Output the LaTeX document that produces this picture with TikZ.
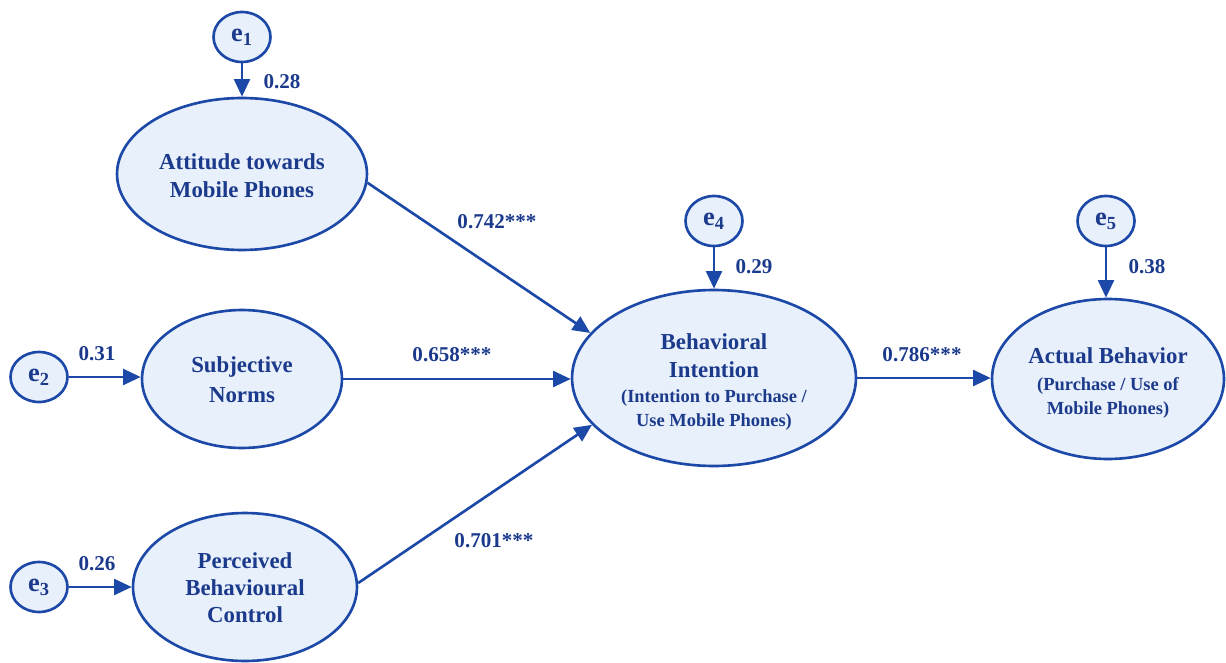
\documentclass[tikz,border=0pt]{standalone}
\usepackage{fontspec}
\setmainfont{Liberation Serif}
\usetikzlibrary{arrows.meta,shapes.geometric}
\definecolor{dblue}{HTML}{1C48A8}
\definecolor{tblue}{HTML}{1B3A8C}
\definecolor{lfill}{HTML}{E8F0FB}
\tikzset{
  latent/.style={ellipse, draw=dblue, line width=1.5pt, fill=lfill, inner sep=0pt, align=center, text=tblue, font=\bfseries\fontsize{13}{16}\selectfont},
  errc/.style={ellipse, draw=dblue, line width=1.5pt, fill=lfill, inner sep=0pt, minimum width=1.14cm, minimum height=1.0cm, text=tblue, font=\bfseries\fontsize{15}{16}\selectfont},
  path/.style={draw=dblue, line width=1.5pt, -{Triangle[length=10pt,width=9pt]}},
  coef/.style={text=tblue, font=\bfseries\fontsize{12}{14}\selectfont, inner sep=0pt},
}
\newcommand{\smalltxt}[1]{{\fontsize{10.5}{13}\selectfont #1}}
\begin{document}
\begin{tikzpicture}[x=0.02cm,y=-0.02cm]
\useasboundingbox (0,0) rectangle (1226,662);
% latent variables
\node[latent, minimum width=5.0cm, minimum height=3.04cm] (att) at (242,174) {\rule{0pt}{11pt}Attitude towards\\Mobile Phones};
\node[latent, minimum width=4.0cm, minimum height=2.76cm] (sn) at (242,379) {\rule{0pt}{10pt}Subjective\\[0.8pt]Norms};
\node[latent, minimum width=4.48cm, minimum height=2.96cm] (pbc) at (245,587) {\rule{0pt}{10pt}Perceived\\[-0.7pt]Behavioural\\[-0.7pt]Control};
\node[latent, minimum width=5.68cm, minimum height=3.52cm] (bi) at (714,378) {\rule{0pt}{13.5pt}Behavioral\\Intention\\[-1.8pt]\smalltxt{(Intention to Purchase /}\\[-2.4pt]\smalltxt{Use Mobile Phones)}};
\node[latent, minimum width=4.64cm, minimum height=3.2cm] (ab) at (1108,379) {\rule{0pt}{13.5pt}Actual Behavior\\[-0.7pt]\smalltxt{(Purchase / Use of}\\[-2.4pt]\smalltxt{Mobile Phones)}};
% error terms
\node[errc] (e1) at (242,37) {e\textsubscript{1}};
\node[errc] (e2) at (39,377) {e\textsubscript{2}};
\node[errc] (e3) at (39,587) {e\textsubscript{3}};
\node[errc] (e4) at (714,221) {e\textsubscript{4}};
\node[errc] (e5) at (1106,221) {e\textsubscript{5}};
% paths
\draw[path] (e1) -- (att);
\draw[path] (e2.east) -- (e2.east -| sn.west);
\draw[path] (e3.east) -- (e3.east -| pbc.west);
\draw[path] (e4) -- (bi);
\draw[path] (e5.south) -- (e5.south |- ab.north);
\draw[path] (att.-4) -- (bi.160);
\draw[path] (sn.east) -- (sn.east -| bi.west);
\draw[path] (pbc.2) -- (bi.201);
\draw[path] (bi.east) -- (bi.east -| ab.west);
% coefficients
\node[coef] (c1) at (282,82) {0.28};
\node[coef] (c2) at (97,354) {0.31};
\node[coef] (c3) at (97,564) {0.26};
\node[coef] (c4) at (754,267) {0.29};
\node[coef] (c5) at (1147,267) {0.38};
\node[coef] (c6) at (497,222) {0.742***};
\node[coef] (c7) at (452,355) {0.658***};
\node[coef] (c8) at (494,541) {0.701***};
\node[coef] (c9) at (922,355) {0.786***};
\end{tikzpicture}
\end{document}
